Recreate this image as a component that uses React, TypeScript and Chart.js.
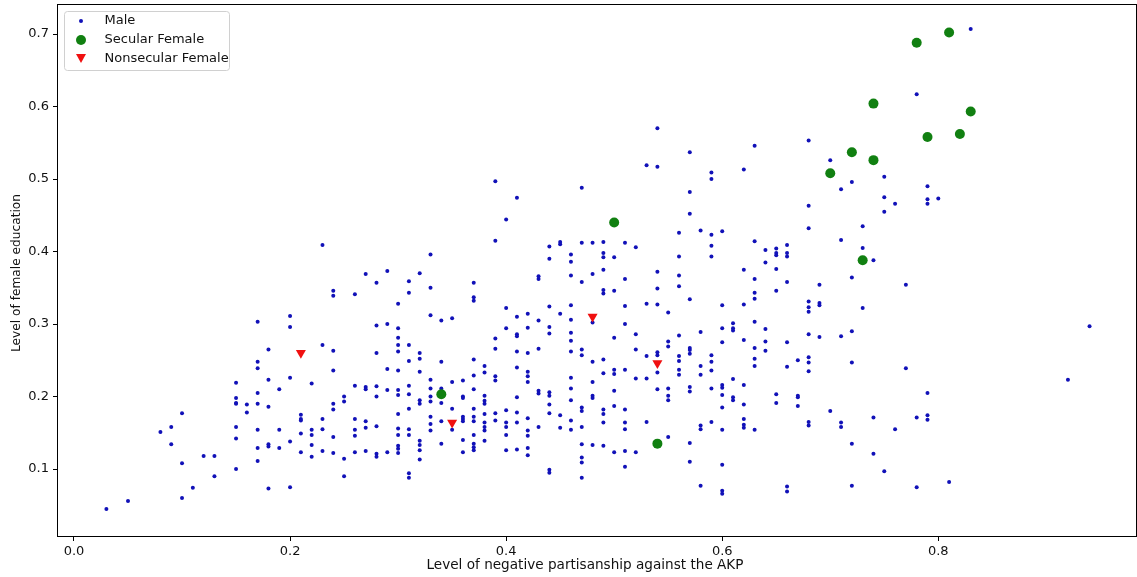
import React, { useEffect, useRef } from 'react';
import { Chart, registerables } from 'chart.js';

Chart.register(...registerables);

const X_TICKS = [0.0, 0.2, 0.4, 0.6, 0.8];
const Y_TICKS = [0.1, 0.2, 0.3, 0.4, 0.5, 0.6, 0.7];
const X_LABEL = 'Level of negative partisanship against the AKP';
const Y_LABEL = 'Level of female education';
const LEGEND_LABELS = ['Male', 'Secular Female', 'Nonsecular Female'];

const MALE: [number, number][] = [
  [0.39,0.497],
  [0.54,0.570],[0.57,0.537],[0.53,0.519],[0.54,0.517],[0.59,0.509],[0.59,0.500],[0.62,0.513],[0.63,0.546],[0.68,0.553],[0.70,0.526],[0.72,0.496],
  [0.83,0.707],[0.78,0.617],[0.75,0.503],[0.79,0.490],
  [0.75,0.475],[0.76,0.466],[0.75,0.455],[0.79,0.472],[0.79,0.466],[0.80,0.473],[0.74,0.388],[0.77,0.354],[0.94,0.297],
  [0.23,0.409],[0.17,0.303],[0.20,0.311],[0.20,0.296],[0.23,0.271],[0.18,0.265],[0.17,0.248],
  [0.47,0.488],[0.41,0.474],[0.40,0.444],[0.39,0.415],[0.44,0.407],[0.45,0.413],[0.45,0.410],[0.47,0.412],[0.48,0.412],[0.44,0.390],[0.46,0.396],[0.46,0.386],[0.33,0.396],[0.27,0.369],[0.29,0.373],[0.32,0.370],[0.28,0.357],[0.31,0.359],[0.37,0.357],[0.43,0.366],[0.43,0.362],[0.46,0.367],[0.48,0.369],[0.47,0.358],[0.24,0.346],[0.24,0.339],[0.26,0.341],[0.31,0.343],[0.33,0.350],[0.37,0.337],[0.37,0.332],[0.30,0.328],[0.40,0.322],[0.44,0.324],[0.46,0.326],[0.33,0.312],[0.34,0.305],[0.35,0.308],[0.41,0.310],[0.42,0.314],[0.43,0.305],[0.45,0.314],[0.46,0.306],[0.48,0.302],[0.28,0.298],[0.29,0.300],[0.30,0.294],[0.40,0.294],[0.41,0.286],[0.41,0.283],[0.42,0.295],[0.44,0.296],[0.44,0.287],[0.46,0.288],[0.46,0.277],[0.30,0.281],[0.30,0.271],[0.31,0.271],[0.39,0.280],[0.24,0.263],[0.28,0.260],[0.30,0.262],[0.32,0.260],[0.32,0.252],[0.31,0.249],[0.34,0.248],[0.37,0.251],[0.39,0.266],[0.41,0.262],[0.42,0.260],[0.43,0.266],[0.46,0.262],[0.47,0.265],[0.47,0.257],[0.48,0.248],
  [0.57,0.482],[0.71,0.486],[0.68,0.463],[0.57,0.452],[0.68,0.432],[0.73,0.435],[0.58,0.429],[0.56,0.426],[0.59,0.423],[0.60,0.428],[0.71,0.416],[0.73,0.405],[0.49,0.413],[0.51,0.412],[0.52,0.406],[0.59,0.408],[0.63,0.414],[0.64,0.402],[0.65,0.404],[0.65,0.398],[0.65,0.395],[0.66,0.409],[0.66,0.398],[0.66,0.393],[0.49,0.398],[0.49,0.392],[0.50,0.392],[0.56,0.393],[0.59,0.393],[0.64,0.385],[0.49,0.375],[0.62,0.375],[0.65,0.376],[0.54,0.372],[0.56,0.367],[0.72,0.364],[0.51,0.362],[0.63,0.362],[0.66,0.358],[0.69,0.354],[0.56,0.352],[0.54,0.349],[0.49,0.347],[0.49,0.342],[0.50,0.346],[0.65,0.346],[0.63,0.343],[0.63,0.335],[0.57,0.334],[0.68,0.331],[0.68,0.323],[0.68,0.317],[0.69,0.329],[0.69,0.326],[0.53,0.328],[0.54,0.327],[0.51,0.325],[0.60,0.326],[0.62,0.327],[0.73,0.322],[0.55,0.316],[0.51,0.300],[0.61,0.301],[0.61,0.294],[0.61,0.291],[0.63,0.303],[0.60,0.294],[0.64,0.293],[0.72,0.290],[0.58,0.289],[0.52,0.286],[0.56,0.284],[0.68,0.286],[0.69,0.282],[0.71,0.283],[0.50,0.281],[0.55,0.276],[0.55,0.269],[0.60,0.275],[0.62,0.278],[0.64,0.276],[0.66,0.275],[0.63,0.267],[0.64,0.263],[0.52,0.265],[0.57,0.267],[0.57,0.264],[0.57,0.259],[0.54,0.261],[0.54,0.257],[0.53,0.256],[0.56,0.256],[0.56,0.249],[0.59,0.257],[0.59,0.248],[0.49,0.251],[0.63,0.252],[0.67,0.250],[0.68,0.254],[0.68,0.247],[0.72,0.247],
  [0.03,0.045],[0.05,0.056],[0.08,0.151],[0.09,0.158],[0.09,0.134],[0.10,0.177],[0.10,0.108],[0.10,0.060],[0.11,0.074],[0.12,0.118],[0.13,0.118],[0.13,0.090],[0.15,0.219],[0.15,0.198],[0.15,0.191],[0.15,0.190],[0.15,0.158],[0.15,0.142],[0.15,0.100],[0.16,0.189],[0.16,0.178],[0.17,0.239],[0.17,0.205],[0.17,0.190],[0.17,0.154],[0.17,0.129],[0.17,0.111],[0.18,0.223],[0.18,0.186],[0.18,0.134],[0.18,0.131],[0.18,0.073],[0.19,0.210],[0.19,0.154],[0.19,0.129],[0.20,0.226],[0.20,0.138],[0.20,0.075],[0.21,0.175],[0.21,0.169],[0.21,0.167],[0.21,0.149],[0.21,0.123],[0.22,0.218],[0.22,0.154],[0.22,0.147],[0.22,0.133],[0.22,0.117],[0.23,0.169],[0.23,0.155],[0.23,0.125],
  [0.24,0.236],[0.24,0.190],[0.24,0.182],[0.24,0.144],[0.24,0.122],[0.25,0.200],[0.25,0.193],[0.25,0.114],[0.25,0.090],[0.26,0.215],[0.26,0.169],[0.26,0.154],[0.26,0.146],[0.26,0.123],[0.27,0.213],[0.27,0.210],[0.27,0.166],[0.27,0.157],[0.27,0.125],[0.28,0.214],[0.28,0.200],[0.28,0.159],[0.28,0.121],[0.28,0.117],[0.29,0.238],[0.29,0.209],[0.29,0.123],[0.30,0.236],[0.30,0.209],[0.30,0.202],[0.30,0.176],[0.30,0.156],[0.30,0.147],[0.30,0.132],[0.30,0.128],[0.30,0.122],[0.31,0.215],[0.31,0.203],[0.31,0.183],[0.31,0.155],[0.31,0.147],[0.31,0.094],[0.31,0.088],[0.32,0.234],[0.32,0.195],[0.32,0.190],[0.32,0.139],[0.32,0.133],[0.32,0.126],[0.32,0.113],[0.33,0.223],[0.33,0.211],[0.33,0.200],[0.33,0.193],[0.33,0.172],[0.33,0.162],[0.33,0.153],[0.34,0.211],[0.34,0.191],[0.34,0.166],[0.34,0.135],[0.35,0.220],[0.35,0.183],[0.35,0.154],[0.36,0.222],[0.36,0.200],[0.36,0.198],[0.36,0.172],[0.36,0.169],[0.36,0.166],[0.36,0.140],[0.36,0.123],[0.37,0.229],[0.37,0.210],[0.37,0.183],[0.37,0.172],[0.37,0.166],[0.37,0.147],[0.37,0.135],[0.37,0.130],[0.37,0.126],[0.38,0.242],[0.38,0.233],[0.38,0.201],[0.38,0.194],[0.38,0.190],[0.38,0.176],[0.38,0.164],[0.38,0.158],[0.38,0.153],[0.38,0.139],[0.39,0.228],[0.39,0.222],[0.39,0.177],[0.39,0.167],[0.40,0.181],[0.40,0.164],[0.40,0.158],[0.40,0.147],[0.40,0.126],[0.41,0.240],[0.41,0.199],[0.41,0.178],[0.41,0.164],[0.41,0.127],[0.42,0.234],[0.42,0.228],[0.42,0.220],[0.42,0.170],[0.42,0.153],[0.42,0.146],[0.42,0.129],[0.42,0.119],[0.43,0.208],[0.43,0.204],[0.43,0.158],[0.44,0.206],[0.44,0.201],[0.44,0.189],[0.44,0.177],[0.44,0.099],[0.44,0.095],[0.45,0.174],[0.45,0.157],[0.46,0.226],[0.46,0.211],[0.46,0.195],[0.46,0.167],[0.46,0.154],[0.47,0.185],[0.47,0.180],[0.47,0.158],[0.47,0.134],[0.47,0.116],[0.47,0.109],[0.47,0.088],[0.48,0.220],[0.48,0.201],[0.48,0.198],[0.48,0.133],
  [0.49,0.232],[0.50,0.237],[0.50,0.231],[0.51,0.237],[0.52,0.225],[0.53,0.225],[0.54,0.233],[0.56,0.237],[0.56,0.230],[0.58,0.242],[0.58,0.230],[0.59,0.236],[0.63,0.242],[0.66,0.241],[0.68,0.235],[0.61,0.224],[0.50,0.208],[0.54,0.210],[0.55,0.211],[0.55,0.201],[0.55,0.195],[0.57,0.213],[0.57,0.207],[0.59,0.211],[0.60,0.216],[0.60,0.212],[0.60,0.202],[0.60,0.185],[0.61,0.199],[0.61,0.195],[0.62,0.216],[0.62,0.189],[0.65,0.203],[0.65,0.191],[0.67,0.201],[0.67,0.199],[0.67,0.187],[0.70,0.180],[0.49,0.182],[0.49,0.176],[0.50,0.187],[0.51,0.182],[0.49,0.164],[0.51,0.164],[0.51,0.155],[0.53,0.165],[0.55,0.144],[0.58,0.160],[0.58,0.155],[0.59,0.165],[0.60,0.154],[0.62,0.169],[0.62,0.161],[0.62,0.157],[0.63,0.154],[0.68,0.165],[0.68,0.160],[0.71,0.164],[0.71,0.158],[0.49,0.132],[0.50,0.123],[0.51,0.125],[0.52,0.123],[0.51,0.103],[0.57,0.136],[0.57,0.110],[0.60,0.106],[0.72,0.135],[0.58,0.077],[0.60,0.070],[0.60,0.066],[0.66,0.076],[0.66,0.069],[0.72,0.077],
  [0.77,0.239],[0.92,0.223],[0.79,0.205],[0.74,0.171],[0.78,0.171],[0.79,0.174],[0.79,0.168],[0.76,0.155],[0.74,0.121],[0.75,0.097],[0.78,0.075],[0.81,0.082],
];

const SECULAR_FEMALE: [number, number][] = [
  [0.34,0.203],[0.50,0.440],[0.54,0.135],[0.70,0.508],[0.72,0.537],[0.73,0.388],[0.74,0.526],
  [0.74,0.604],[0.78,0.688],[0.79,0.558],[0.81,0.702],[0.82,0.562],[0.83,0.593],
];

const NONSECULAR_FEMALE: [number, number][] = [
  [0.21,0.260],[0.35,0.164],[0.48,0.310],[0.54,0.246],
];

const COLORS = ['#1111b8', '#118011', '#f01010'];
const FONT_FAMILY = '"DejaVu Sans", sans-serif';
const FONT_SIZE = 13;

export default function App() {
  const ref = useRef<HTMLCanvasElement>(null);

  useEffect(() => {
    if (!ref.current) return;

    const framePlugin = {
      id: 'frame',
      afterDatasetsDraw(chart: any) {
        const { ctx, chartArea: a } = chart;
        ctx.save();
        ctx.strokeStyle = '#000';
        ctx.lineWidth = 1;
        ctx.strokeRect(a.left - 0.5, a.top - 0.5, a.right - a.left + 1, a.bottom - a.top + 1);
        ctx.restore();
      },
    };

    const axisTitlePlugin = {
      id: 'axisTitles',
      afterDraw(chart: any) {
        const ctx = chart.ctx;
        ctx.save();
        ctx.fillStyle = '#111';
        ctx.textAlign = 'center';
        ctx.textBaseline = 'middle';
        ctx.font = `13.6px ${FONT_FAMILY}`;
        ctx.fillText(X_LABEL, 585, 565);
        ctx.translate(17, 273);
        ctx.rotate(-Math.PI / 2);
        ctx.font = `12.2px ${FONT_FAMILY}`;
        ctx.fillText(Y_LABEL, 0, 0);
        ctx.restore();
      },
    };

    const legendPlugin = {
      id: 'mplLegend',
      afterDraw(chart: any) {
        const ctx = chart.ctx;
        ctx.save();
        const x0 = 64.5, y0 = 11.5, w = 165, h = 59, r = 3;
        ctx.beginPath();
        ctx.moveTo(x0 + r, y0);
        ctx.lineTo(x0 + w - r, y0);
        ctx.quadraticCurveTo(x0 + w, y0, x0 + w, y0 + r);
        ctx.lineTo(x0 + w, y0 + h - r);
        ctx.quadraticCurveTo(x0 + w, y0 + h, x0 + w - r, y0 + h);
        ctx.lineTo(x0 + r, y0 + h);
        ctx.quadraticCurveTo(x0, y0 + h, x0, y0 + h - r);
        ctx.lineTo(x0, y0 + r);
        ctx.quadraticCurveTo(x0, y0, x0 + r, y0);
        ctx.closePath();
        ctx.fillStyle = 'rgba(255,255,255,0.8)';
        ctx.fill();
        ctx.strokeStyle = '#d0d0d0';
        ctx.lineWidth = 1;
        ctx.stroke();

        const rows = [21, 40, 58.5];
        const mx = 81;
        ctx.fillStyle = COLORS[0];
        ctx.beginPath();
        ctx.arc(mx, rows[0], 2, 0, Math.PI * 2);
        ctx.fill();
        ctx.fillStyle = COLORS[1];
        ctx.beginPath();
        ctx.arc(mx, rows[1], 5, 0, Math.PI * 2);
        ctx.fill();
        ctx.fillStyle = COLORS[2];
        ctx.beginPath();
        ctx.moveTo(mx - 5, rows[2] - 4.5);
        ctx.lineTo(mx + 5, rows[2] - 4.5);
        ctx.lineTo(mx, rows[2] + 4.5);
        ctx.closePath();
        ctx.fill();

        ctx.fillStyle = '#111';
        ctx.font = `${FONT_SIZE}px ${FONT_FAMILY}`;
        ctx.textBaseline = 'middle';
        ctx.textAlign = 'left';
        LEGEND_LABELS.forEach((t, i) => ctx.fillText(t, 104.5, rows[i]));
        ctx.restore();
      },
    };

    const toPts = (arr: [number, number][]) => arr.map(([x, y]) => ({ x, y }));
    const zeroPad = (s: any) => {
      s.paddingTop = 0;
      s.paddingBottom = 0;
      s.paddingLeft = 0;
      s.paddingRight = 0;
    };

    const chart = new Chart(ref.current, {
      type: 'scatter',
      data: {
        datasets: [
          {
            label: LEGEND_LABELS[0],
            data: toPts(MALE),
            backgroundColor: COLORS[0],
            borderWidth: 0,
            pointRadius: 2,
            order: 3,
          },
          {
            label: LEGEND_LABELS[1],
            data: toPts(SECULAR_FEMALE),
            backgroundColor: COLORS[1],
            borderWidth: 0,
            pointRadius: 5,
            order: 2,
          },
          {
            label: LEGEND_LABELS[2],
            data: toPts(NONSECULAR_FEMALE),
            backgroundColor: COLORS[2],
            borderWidth: 0,
            pointRadius: 5.8,
            pointStyle: 'triangle',
            rotation: 180,
            order: 1,
          },
        ] as any,
      },
      options: {
        animation: false,
        responsive: false,
        devicePixelRatio: 1,
        layout: { autoPadding: false, padding: { left: 0, right: 1, top: 5, bottom: 0 } },
        plugins: {
          legend: { display: false },
          tooltip: { enabled: false },
        },
        scales: {
          x: {
            type: 'linear',
            min: -0.0148,
            max: 0.983,
            afterFit: (s: any) => { s.height = 41; zeroPad(s); },
            afterBuildTicks: (s: any) => { s.ticks = X_TICKS.map((v) => ({ value: v })); },
            ticks: {
              callback: (v: any) => Number(v).toFixed(1),
              font: { family: FONT_FAMILY, size: FONT_SIZE },
              color: '#111',
              padding: 3,
              maxRotation: 0,
            },
            grid: { drawOnChartArea: false, drawTicks: true, tickLength: 5, color: '#000', lineWidth: 1 },
            border: { display: false },
            title: { display: false },
          },
          y: {
            type: 'linear',
            min: 0.0076,
            max: 0.74,
            afterFit: (s: any) => { s.width = 58; zeroPad(s); },
            afterBuildTicks: (s: any) => { s.ticks = Y_TICKS.map((v) => ({ value: v })); },
            ticks: {
              callback: (v: any) => Number(v).toFixed(1),
              font: { family: FONT_FAMILY, size: FONT_SIZE },
              color: '#111',
              padding: 4,
            },
            grid: { drawOnChartArea: false, drawTicks: true, tickLength: 5, color: '#000', lineWidth: 1 },
            border: { display: false },
            title: { display: false },
          },
        },
      } as any,
      plugins: [framePlugin, axisTitlePlugin, legendPlugin],
    });

    return () => chart.destroy();
  }, []);

  return (
    <div style={{ position: 'absolute', left: 0, top: 0, width: 1137, height: 577, background: '#fff' }}>
      <canvas ref={ref} width={1137} height={577} style={{ display: 'block' }} />
    </div>
  );
}
